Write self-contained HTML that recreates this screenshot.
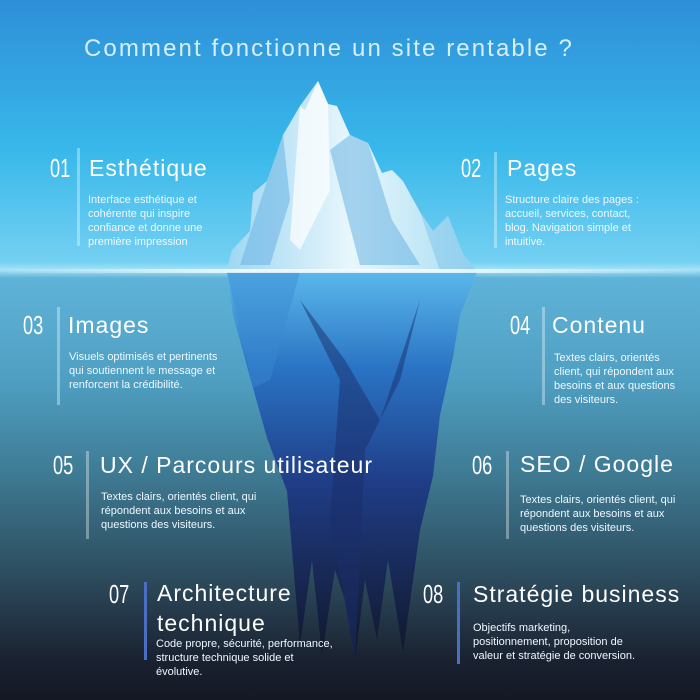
<!DOCTYPE html>
<html><head><meta charset="utf-8"><style>
*{margin:0;padding:0}
body{width:700px;height:700px;overflow:hidden;position:relative;font-family:"Liberation Sans",sans-serif;color:#fff;
background:linear-gradient(180deg,#2e8fd8 0px,#38b8ea 150px,#74d0f2 262px,#a8e2f6 270px,#5fb3d8 278px,#4f9fc2 380px,#3f7c95 470px,#2c4a5c 580px,#1a2130 660px,#141824 700px);}
.a{position:absolute}
.t{position:absolute;font-size:23px;white-space:nowrap;color:#fff;letter-spacing:1px}
.n{position:absolute;font-size:26px;transform:scaleX(.7);transform-origin:left top;color:#fff}
.b{position:absolute;width:3px;background:rgba(255,255,255,.35)}
.d{position:absolute;font-size:11px;line-height:14px;color:#eef8ff;letter-spacing:0;white-space:nowrap}
</style></head><body>
<svg class="a" style="left:0;top:0" width="700" height="700">
<defs>
<linearGradient id="u" x1="0" y1="0" x2="0" y2="1">
<stop offset="0" stop-color="#5ab8ea"/><stop offset=".25" stop-color="#2a73c4"/><stop offset=".55" stop-color="#1f3c85"/><stop offset="1" stop-color="#111628"/></linearGradient>
<linearGradient id="w" x1="0" y1="0" x2="1" y2="0">
<stop offset="0" stop-color="#ffffff" stop-opacity="0"/><stop offset=".35" stop-color="#ffffff" stop-opacity=".8"/><stop offset=".65" stop-color="#ffffff" stop-opacity=".8"/><stop offset="1" stop-color="#ffffff" stop-opacity="0"/></linearGradient>
<linearGradient id="ice" x1="0" y1="0" x2="1" y2="0">
<stop offset="0" stop-color="#9fd6f2"/><stop offset=".5" stop-color="#e8f7fc"/><stop offset="1" stop-color="#a6dcf2"/></linearGradient>
</defs>
<polygon fill="url(#u)" points="227,272 233,315 253,388 267,438 287,491 300,645 312,560 322,655 335,570 345,600 355,660 365,580 377,640 388,560 403,652 420,530 433,476 440,415 453,357 460,315 477,272"/>
<polygon fill="#1a2e6a" opacity=".5" points="300,300 340,380 330,520 355,660 365,450 400,380 420,300 380,420 345,360"/>
<polygon fill="#3a8ad0" opacity=".45" points="227,272 300,272 270,380 253,388"/>
<polygon fill="url(#ice)" points="227,269 232,250 250,231 253,193 267,181 283,135 300,106 305,110 318,81 328,104 337,106 350,135 368,143 382,173 392,170 403,181 420,212 433,231 448,216 463,254 477,271"/>
<polygon fill="#6fb8e6" opacity=".6" points="240,265 267,181 283,135 290,200 270,265"/>
<polygon fill="#5faee0" opacity=".5" points="330,150 350,135 368,143 392,220 420,265 360,265"/>
<polygon fill="#ffffff" opacity=".7" points="300,106 318,81 328,104 330,190 300,250 290,240"/>
<polygon fill="#7ec4ea" opacity=".5" points="420,212 433,231 448,216 463,254 477,271 440,271"/>
<rect x="0" y="269" width="700" height="4" fill="url(#w)"/>
</svg>
<div class="t" style="left:84px;top:35px;font-size:24px;letter-spacing:2.1px;color:#d6efff">Comment fonctionne un site rentable ?</div>

<div class="n" style="left:50px;top:153px">01</div><div class="b" style="left:77px;top:148px;height:98px"></div>
<div class="t" style="left:89px;top:155px">Esthétique</div>
<div class="d" style="left:88px;top:193px">Interface esthétique et<br>cohérente qui inspire<br>confiance et donne une<br>première impression</div>

<div class="n" style="left:461px;top:153px">02</div><div class="b" style="left:494px;top:152px;height:96px"></div>
<div class="t" style="left:507px;top:155px">Pages</div>
<div class="d" style="left:505px;top:193px">Structure claire des pages :<br>accueil, services, contact,<br>blog. Navigation simple et<br>intuitive.</div>

<div class="n" style="left:23px;top:310px">03</div><div class="b" style="left:57px;top:307px;height:98px"></div>
<div class="t" style="left:68px;top:312px">Images</div>
<div class="d" style="left:69px;top:350px">Visuels optimisés et pertinents<br>qui soutiennent le message et<br>renforcent la crédibilité.</div>

<div class="n" style="left:510px;top:310px">04</div><div class="b" style="left:542px;top:307px;height:98px"></div>
<div class="t" style="left:552px;top:312px">Contenu</div>
<div class="d" style="left:554px;top:351px">Textes clairs, orientés<br>client, qui répondent aux<br>besoins et aux questions<br>des visiteurs.</div>

<div class="n" style="left:53px;top:450px">05</div><div class="b" style="left:86px;top:451px;height:88px"></div>
<div class="t" style="left:100px;top:452px">UX / Parcours utilisateur</div>
<div class="d" style="left:101px;top:490px">Textes clairs, orientés client, qui<br>répondent aux besoins et aux<br>questions des visiteurs.</div>

<div class="n" style="left:472px;top:450px">06</div><div class="b" style="left:506px;top:451px;height:88px"></div>
<div class="t" style="left:520px;top:451px">SEO / Google</div>
<div class="d" style="left:520px;top:493px">Textes clairs, orientés client, qui<br>répondent aux besoins et aux<br>questions des visiteurs.</div>

<div class="n" style="left:109px;top:579px">07</div><div class="b" style="left:144px;top:582px;height:78px;background:#4a6ec2"></div>
<div class="t" style="left:157px;top:578px;line-height:30px">Architecture<br>technique</div>
<div class="d" style="left:156px;top:637px">Code propre, sécurité, performance,<br>structure technique solide et<br>évolutive.</div>

<div class="n" style="left:423px;top:579px">08</div><div class="b" style="left:457px;top:582px;height:82px;background:#4a6ec2"></div>
<div class="t" style="left:473px;top:581px">Stratégie business</div>
<div class="d" style="left:473px;top:621px">Objectifs marketing,<br>positionnement, proposition de<br>valeur et stratégie de conversion.</div>
</body></html>
